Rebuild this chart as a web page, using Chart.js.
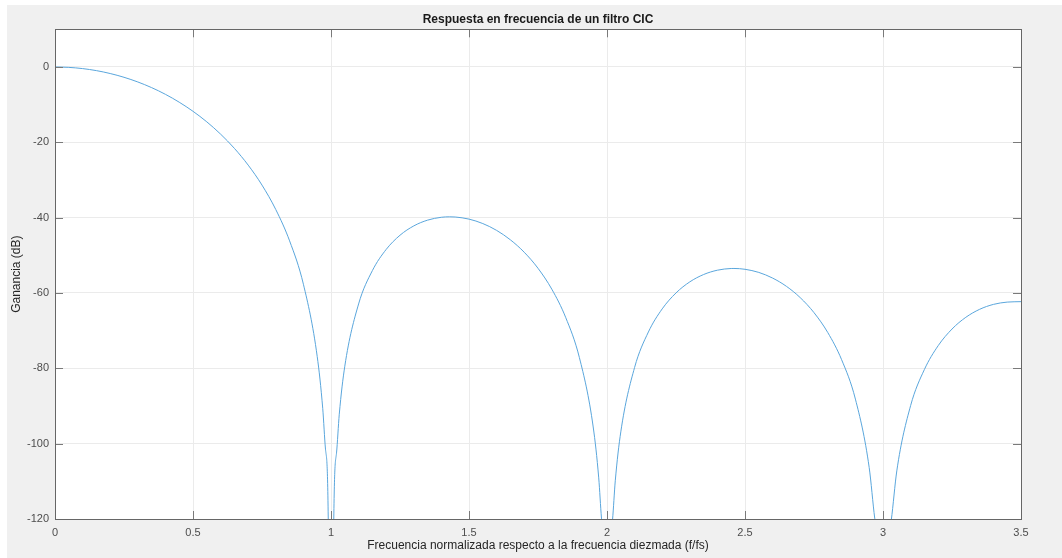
<!DOCTYPE html>
<html lang="es">
<head>
<meta charset="utf-8">
<title>Respuesta en frecuencia de un filtro CIC</title>
<script src="https://cdn.jsdelivr.net/npm/chart.js@4/dist/chart.umd.min.js"></script>
<style>
    html, body { margin: 0; padding: 0; background: #ffffff; }
    #wrap { width: 1062px; height: 558px; }
</style>
</head>
<body>
<div id="wrap"><canvas id="cic-chart" width="1062" height="558"></canvas></div>
<script>
// frecuencia normalizada (f/fs) y ganancia en dB
const freqs = [
    0, 0.05, 0.1, 0.15, 0.2, 0.25, 0.3, 0.35, 0.4, 0.45,
    0.5, 0.55, 0.6, 0.65, 0.7, 0.75, 0.8, 0.85, 0.9, 0.95,
    0.97, 0.98, 0.99, 1.0, 1.01, 1.02, 1.03, 1.05,
    1.1, 1.15, 1.2, 1.25, 1.3, 1.35, 1.4, 1.43, 1.45, 1.5,
    1.55, 1.6, 1.65, 1.7, 1.75, 1.8, 1.85, 1.9, 1.95,
    1.97, 1.98, 1.99, 2.0, 2.01, 2.02, 2.03, 2.05,
    2.1, 2.15, 2.2, 2.25, 2.3, 2.35, 2.4, 2.45, 2.46, 2.5,
    2.55, 2.6, 2.65, 2.7, 2.75, 2.8, 2.85, 2.9, 2.95,
    2.97, 2.98, 3.0, 3.02, 3.03, 3.05,
    3.1, 3.15, 3.2, 3.25, 3.3, 3.35, 3.4, 3.45, 3.5
];
const gains = [
    0, -0.11, -0.43, -0.97, -1.74, -2.74, -3.98, -5.48, -7.26, -9.35,
    -11.77, -14.57, -17.83, -21.61, -26.06, -31.36, -37.86, -46.17, -57.68, -76.83,
    -90.62, -101.43, -119.74, -300, -120.26, -102.47, -92.18, -79.44,
    -62.91, -54.05, -48.43, -44.67, -42.19, -40.66, -39.90, -39.78, -39.83, -40.39,
    -41.57, -43.38, -45.89, -49.18, -53.44, -58.99, -66.44, -77.16, -95.57,
    -109.08, -119.76, -137.94, -300, -138.2, -120.27, -109.86, -96.87,
    -79.76, -70.35, -64.22, -59.99, -57.05, -55.10, -53.95, -53.50, -53.49, -53.71,
    -54.54, -56.04, -58.23, -61.23, -65.22, -70.51, -77.70, -88.17, -106.36,
    -119.78, -130.4, -300, -130.75, -120.3, -107.23,
    -89.91, -80.31, -73.98, -69.57, -66.46, -64.34, -63.03, -62.42, -62.3
];

// marcas de los ejes
const xTicks = [0, 0.5, 1, 1.5, 2, 2.5, 3, 3.5];
const yTicks = [-120, -100, -80, -60, -40, -20, 0];

const FONT = "'Liberation Sans', Arial, Helvetica, sans-serif";

// fondo gris de la figura y caja del eje estilo MATLAB
const figurePlugin = {
    id: 'figura',
    beforeDraw(chart) {
        const ctx = chart.ctx;
        const area = chart.chartArea;
        ctx.save();
        ctx.fillStyle = '#ffffff';
        ctx.fillRect(0, 0, chart.width, chart.height);
        ctx.fillStyle = '#f0f0f0';
        ctx.fillRect(7, 5, chart.width - 7, chart.height - 5);
        ctx.fillStyle = '#ffffff';
        ctx.fillRect(area.left, area.top, area.right - area.left, area.bottom - area.top);
        ctx.restore();
    },
    afterDraw(chart) {
        const ctx = chart.ctx;
        const area = chart.chartArea;
        const xs = chart.scales.x;
        const ys = chart.scales.y;
        const len = 8;
        ctx.save();
        // marcas hacia dentro
        ctx.strokeStyle = '#7a7a7a';
        ctx.lineWidth = 1;
        ctx.beginPath();
        xTicks.forEach(v => {
            const px = Math.round(xs.getPixelForValue(v)) + 0.5;
            ctx.moveTo(px, area.bottom);
            ctx.lineTo(px, area.bottom - len);
            ctx.moveTo(px, area.top);
            ctx.lineTo(px, area.top + len);
        });
        yTicks.forEach(v => {
            const py = Math.round(ys.getPixelForValue(v)) + 0.5;
            ctx.moveTo(area.left, py);
            ctx.lineTo(area.left + len, py);
            ctx.moveTo(area.right, py);
            ctx.lineTo(area.right - len, py);
        });
        ctx.stroke();
        // caja
        ctx.strokeStyle = '#666666';
        ctx.strokeRect(Math.round(area.left) + 0.5, Math.round(area.top) + 0.5,
            Math.round(area.right - area.left), Math.round(area.bottom - area.top));
        ctx.restore();
    }
};

const points = freqs.map((f, i) => ({ x: f, y: gains[i] }));

const ctx = document.getElementById('cic-chart').getContext('2d');
const cicChart = new Chart(ctx, {
    type: 'line',
    data: {
        datasets: [{
            label: 'Ganancia',
            data: points,
            borderColor: '#5aa6dc',
            borderWidth: 1,
            pointRadius: 0,
            cubicInterpolationMode: 'monotone',
            fill: false
        }]
    },
    options: {
        responsive: false,
        animation: false,
        events: [],
        layout: { padding: { left: 0, right: 41, top: 0, bottom: 0 } },
        plugins: {
            legend: { display: false },
            tooltip: { enabled: false },
            title: {
                display: true,
                text: 'Respuesta en frecuencia de un filtro CIC',
                fullSize: false,
                color: '#1a1a1a',
                font: { family: FONT, size: 12, weight: 'bold' },
                padding: { top: 12.6, bottom: 2.3 }
            }
        },
        scales: {
            x: {
                type: 'linear',
                min: 0,
                max: 3.5,
                afterBuildTicks: scale => { scale.ticks = xTicks.map(v => ({ value: v })); },
                afterFit: scale => { scale.height = 39; },
                grid: { color: '#ebebeb', drawTicks: false },
                border: { display: false },
                ticks: {
                    color: '#4d4d4d',
                    font: { family: FONT, size: 11 },
                    padding: 7,
                    maxRotation: 0,
                    callback: value => String(value)
                },
                title: {
                    display: true,
                    text: 'Frecuencia normalizada respecto a la frecuencia diezmada (f/fs)',
                    color: '#262626',
                    font: { family: FONT, size: 12 },
                    padding: { top: 0, bottom: 5.3 }
                }
            },
            y: {
                type: 'linear',
                min: -120,
                max: 10,
                afterBuildTicks: scale => { scale.ticks = yTicks.map(v => ({ value: v })); },
                afterFit: scale => { scale.width = 55; },
                grid: { color: '#ebebeb', drawTicks: false },
                border: { display: false },
                ticks: {
                    color: '#4d4d4d',
                    font: { family: FONT, size: 11 },
                    padding: 6,
                    callback: value => String(value)
                },
                title: {
                    display: true,
                    text: 'Ganancia (dB)',
                    color: '#262626',
                    font: { family: FONT, size: 12 },
                    padding: { top: 9.8, bottom: 0 }
                }
            }
        }
    },
    plugins: [figurePlugin]
});
</script>
</body>
</html>
